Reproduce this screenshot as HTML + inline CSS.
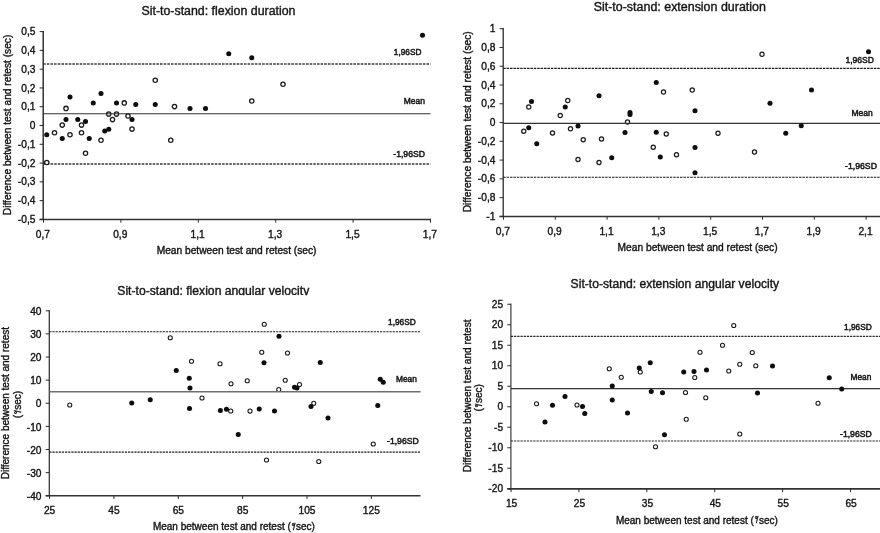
<!DOCTYPE html>
<html><head><meta charset="utf-8"><title>Bland-Altman plots</title>
<style>
html,body{margin:0;padding:0;background:#fff;}
body{width:880px;height:533px;overflow:hidden;}
svg{display:block;font-family:"Liberation Sans",sans-serif;}
text{stroke:#151515;stroke-width:0.38px;}
</style></head><body>
<svg width="880" height="533" viewBox="0 0 880 533">
<defs><filter id="bl" x="0" y="0" width="880" height="533" filterUnits="userSpaceOnUse"><feGaussianBlur stdDeviation="0.4"/></filter></defs>
<g filter="url(#bl)">
<rect x="0" y="0" width="880" height="533" fill="#fff"/>
<g>
<line x1="43.2" y1="31.0" x2="43.2" y2="220.0" stroke="#333" stroke-width="1.5"/>
<line x1="39.6" y1="219.4" x2="431" y2="219.4" stroke="#333" stroke-width="1.5"/>
<line x1="39.6" y1="31.6" x2="43.2" y2="31.6" stroke="#2a2a2a" stroke-width="1.0"/>
<text x="35.4" y="35.2" font-size="10.2" text-anchor="end" fill="#151515">0,5</text>
<line x1="39.6" y1="50.38" x2="43.2" y2="50.38" stroke="#2a2a2a" stroke-width="1.0"/>
<text x="35.4" y="53.98" font-size="10.2" text-anchor="end" fill="#151515">0,4</text>
<line x1="39.6" y1="69.16" x2="43.2" y2="69.16" stroke="#2a2a2a" stroke-width="1.0"/>
<text x="35.4" y="72.76" font-size="10.2" text-anchor="end" fill="#151515">0,3</text>
<line x1="39.6" y1="87.94" x2="43.2" y2="87.94" stroke="#2a2a2a" stroke-width="1.0"/>
<text x="35.4" y="91.54" font-size="10.2" text-anchor="end" fill="#151515">0,2</text>
<line x1="39.6" y1="106.72" x2="43.2" y2="106.72" stroke="#2a2a2a" stroke-width="1.0"/>
<text x="35.4" y="110.32" font-size="10.2" text-anchor="end" fill="#151515">0,1</text>
<line x1="39.6" y1="125.5" x2="43.2" y2="125.5" stroke="#2a2a2a" stroke-width="1.0"/>
<text x="35.4" y="129.1" font-size="10.2" text-anchor="end" fill="#151515">0</text>
<line x1="39.6" y1="144.28" x2="43.2" y2="144.28" stroke="#2a2a2a" stroke-width="1.0"/>
<text x="35.4" y="147.88" font-size="10.2" text-anchor="end" fill="#151515">-0,1</text>
<line x1="39.6" y1="163.06" x2="43.2" y2="163.06" stroke="#2a2a2a" stroke-width="1.0"/>
<text x="35.4" y="166.66" font-size="10.2" text-anchor="end" fill="#151515">-0,2</text>
<line x1="39.6" y1="181.84" x2="43.2" y2="181.84" stroke="#2a2a2a" stroke-width="1.0"/>
<text x="35.4" y="185.44" font-size="10.2" text-anchor="end" fill="#151515">-0,3</text>
<line x1="39.6" y1="200.62" x2="43.2" y2="200.62" stroke="#2a2a2a" stroke-width="1.0"/>
<text x="35.4" y="204.22" font-size="10.2" text-anchor="end" fill="#151515">-0,4</text>
<line x1="39.6" y1="219.4" x2="43.2" y2="219.4" stroke="#2a2a2a" stroke-width="1.0"/>
<text x="35.4" y="223.0" font-size="10.2" text-anchor="end" fill="#151515">-0,5</text>
<line x1="43.5" y1="219.4" x2="43.5" y2="222.70000000000002" stroke="#2a2a2a" stroke-width="1.0"/>
<text x="42.9" y="238.1" font-size="10.2" text-anchor="middle" fill="#151515">0,7</text>
<line x1="120.9" y1="219.4" x2="120.9" y2="222.70000000000002" stroke="#2a2a2a" stroke-width="1.0"/>
<text x="120.3" y="238.1" font-size="10.2" text-anchor="middle" fill="#151515">0,9</text>
<line x1="198.3" y1="219.4" x2="198.3" y2="222.70000000000002" stroke="#2a2a2a" stroke-width="1.0"/>
<text x="197.7" y="238.1" font-size="10.2" text-anchor="middle" fill="#151515">1,1</text>
<line x1="275.7" y1="219.4" x2="275.7" y2="222.70000000000002" stroke="#2a2a2a" stroke-width="1.0"/>
<text x="275.1" y="238.1" font-size="10.2" text-anchor="middle" fill="#151515">1,3</text>
<line x1="353.1" y1="219.4" x2="353.1" y2="222.70000000000002" stroke="#2a2a2a" stroke-width="1.0"/>
<text x="352.5" y="238.1" font-size="10.2" text-anchor="middle" fill="#151515">1,5</text>
<line x1="430.5" y1="219.4" x2="430.5" y2="222.70000000000002" stroke="#2a2a2a" stroke-width="1.0"/>
<text x="429.9" y="238.1" font-size="10.2" text-anchor="middle" fill="#151515">1,7</text>
<line x1="43.2" y1="64" x2="430.5" y2="64" stroke="#3a3a3a" stroke-width="1.4" stroke-dasharray="2.55 1.1"/>
<line x1="43.2" y1="164" x2="430.5" y2="164" stroke="#3a3a3a" stroke-width="1.4" stroke-dasharray="2.55 1.1"/>
<circle cx="46.75" cy="162.5" r="2.15" fill="#fff" stroke="#1a1a1a" stroke-width="1.3"/>
<circle cx="54.5" cy="132.75" r="2.15" fill="#fff" stroke="#1a1a1a" stroke-width="1.3"/>
<circle cx="62.25" cy="125.1" r="2.15" fill="#fff" stroke="#1a1a1a" stroke-width="1.3"/>
<circle cx="66" cy="108.4" r="2.15" fill="#fff" stroke="#1a1a1a" stroke-width="1.3"/>
<circle cx="70" cy="134.75" r="2.15" fill="#fff" stroke="#1a1a1a" stroke-width="1.3"/>
<circle cx="81.5" cy="125.1" r="2.15" fill="#fff" stroke="#1a1a1a" stroke-width="1.3"/>
<circle cx="81.5" cy="132.75" r="2.15" fill="#fff" stroke="#1a1a1a" stroke-width="1.3"/>
<circle cx="85.5" cy="153.25" r="2.15" fill="#fff" stroke="#1a1a1a" stroke-width="1.3"/>
<circle cx="101" cy="140.25" r="2.15" fill="#fff" stroke="#1a1a1a" stroke-width="1.3"/>
<circle cx="108.75" cy="114.1" r="2.15" fill="#fff" stroke="#1a1a1a" stroke-width="1.3"/>
<circle cx="112.5" cy="119.6" r="2.15" fill="#fff" stroke="#1a1a1a" stroke-width="1.3"/>
<circle cx="116.5" cy="114.1" r="2.15" fill="#fff" stroke="#1a1a1a" stroke-width="1.3"/>
<circle cx="124.25" cy="102.9" r="2.15" fill="#fff" stroke="#1a1a1a" stroke-width="1.3"/>
<circle cx="128" cy="116" r="2.15" fill="#fff" stroke="#1a1a1a" stroke-width="1.3"/>
<circle cx="132" cy="129.1" r="2.15" fill="#fff" stroke="#1a1a1a" stroke-width="1.3"/>
<circle cx="155.25" cy="80.25" r="2.15" fill="#fff" stroke="#1a1a1a" stroke-width="1.3"/>
<circle cx="170.75" cy="140.25" r="2.15" fill="#fff" stroke="#1a1a1a" stroke-width="1.3"/>
<circle cx="174.5" cy="106.6" r="2.15" fill="#fff" stroke="#1a1a1a" stroke-width="1.3"/>
<circle cx="251.75" cy="101" r="2.15" fill="#fff" stroke="#1a1a1a" stroke-width="1.3"/>
<circle cx="283" cy="84.25" r="2.15" fill="#fff" stroke="#1a1a1a" stroke-width="1.3"/>
<line x1="43.2" y1="113.75" x2="430.5" y2="113.75" stroke="#333" stroke-width="1.15"/>
<circle cx="46.75" cy="134.75" r="2.52" fill="#0a0a0a"/>
<circle cx="62.25" cy="138.5" r="2.52" fill="#0a0a0a"/>
<circle cx="66" cy="119.6" r="2.52" fill="#0a0a0a"/>
<circle cx="70" cy="97" r="2.52" fill="#0a0a0a"/>
<circle cx="77.75" cy="119.6" r="2.52" fill="#0a0a0a"/>
<circle cx="85.5" cy="121.6" r="2.52" fill="#0a0a0a"/>
<circle cx="89.25" cy="138.5" r="2.52" fill="#0a0a0a"/>
<circle cx="93.25" cy="102.9" r="2.52" fill="#0a0a0a"/>
<circle cx="101" cy="93.5" r="2.52" fill="#0a0a0a"/>
<circle cx="104.75" cy="131" r="2.52" fill="#0a0a0a"/>
<circle cx="108.75" cy="129.25" r="2.52" fill="#0a0a0a"/>
<circle cx="116.5" cy="102.9" r="2.52" fill="#0a0a0a"/>
<circle cx="132" cy="119.6" r="2.52" fill="#0a0a0a"/>
<circle cx="135.75" cy="104.5" r="2.52" fill="#0a0a0a"/>
<circle cx="155.25" cy="104.5" r="2.52" fill="#0a0a0a"/>
<circle cx="190" cy="108.4" r="2.52" fill="#0a0a0a"/>
<circle cx="205.5" cy="108.4" r="2.52" fill="#0a0a0a"/>
<circle cx="228.75" cy="53.75" r="2.52" fill="#0a0a0a"/>
<circle cx="251.75" cy="57.75" r="2.52" fill="#0a0a0a"/>
<circle cx="422.5" cy="35.25" r="2.52" fill="#0a0a0a"/>
<text x="141.5" y="14.5" font-size="12.3" textLength="154" lengthAdjust="spacingAndGlyphs" fill="#151515">Sit-to-stand: flexion duration</text>
<text x="156.7" y="253.9" font-size="10.2" textLength="159.8" lengthAdjust="spacingAndGlyphs" fill="#151515">Mean between test and retest (sec)</text>
<text x="11.0" y="215.2" font-size="10.2" textLength="180.5" lengthAdjust="spacingAndGlyphs" transform="rotate(-90 11.0 215.2)" fill="#151515">Difference between test and retest (sec)</text>
<text x="393.75" y="55.0" font-size="9" textLength="27.75" lengthAdjust="spacingAndGlyphs" fill="#151515" style="stroke-width:0.5px">1,96SD</text>
<text x="403.75" y="103.8" font-size="9" textLength="21.2" lengthAdjust="spacingAndGlyphs" fill="#151515" style="stroke-width:0.5px">Mean</text>
<text x="393.25" y="157.0" font-size="9" textLength="31.75" lengthAdjust="spacingAndGlyphs" fill="#151515" style="stroke-width:0.5px">-1,96SD</text>
</g>
<g>
<line x1="503.2" y1="28.1" x2="503.2" y2="217.0" stroke="#333" stroke-width="1.35"/>
<line x1="499.59999999999997" y1="216.4" x2="880" y2="216.4" stroke="#333" stroke-width="1.5"/>
<line x1="499.59999999999997" y1="28.7" x2="503.2" y2="28.7" stroke="#2a2a2a" stroke-width="1.0"/>
<text x="495.4" y="32.3" font-size="10.2" text-anchor="end" fill="#151515">1</text>
<line x1="499.59999999999997" y1="47.47" x2="503.2" y2="47.47" stroke="#2a2a2a" stroke-width="1.0"/>
<text x="495.4" y="51.07" font-size="10.2" text-anchor="end" fill="#151515">0,8</text>
<line x1="499.59999999999997" y1="66.24" x2="503.2" y2="66.24" stroke="#2a2a2a" stroke-width="1.0"/>
<text x="495.4" y="69.84" font-size="10.2" text-anchor="end" fill="#151515">0,6</text>
<line x1="499.59999999999997" y1="85.01" x2="503.2" y2="85.01" stroke="#2a2a2a" stroke-width="1.0"/>
<text x="495.4" y="88.61" font-size="10.2" text-anchor="end" fill="#151515">0,4</text>
<line x1="499.59999999999997" y1="103.78" x2="503.2" y2="103.78" stroke="#2a2a2a" stroke-width="1.0"/>
<text x="495.4" y="107.38" font-size="10.2" text-anchor="end" fill="#151515">0,2</text>
<line x1="499.59999999999997" y1="122.55" x2="503.2" y2="122.55" stroke="#2a2a2a" stroke-width="1.0"/>
<text x="495.4" y="126.15" font-size="10.2" text-anchor="end" fill="#151515">0</text>
<line x1="499.59999999999997" y1="141.32" x2="503.2" y2="141.32" stroke="#2a2a2a" stroke-width="1.0"/>
<text x="495.4" y="144.92" font-size="10.2" text-anchor="end" fill="#151515">-0,2</text>
<line x1="499.59999999999997" y1="160.09" x2="503.2" y2="160.09" stroke="#2a2a2a" stroke-width="1.0"/>
<text x="495.4" y="163.69" font-size="10.2" text-anchor="end" fill="#151515">-0,4</text>
<line x1="499.59999999999997" y1="178.86" x2="503.2" y2="178.86" stroke="#2a2a2a" stroke-width="1.0"/>
<text x="495.4" y="182.46" font-size="10.2" text-anchor="end" fill="#151515">-0,6</text>
<line x1="499.59999999999997" y1="197.63" x2="503.2" y2="197.63" stroke="#2a2a2a" stroke-width="1.0"/>
<text x="495.4" y="201.23" font-size="10.2" text-anchor="end" fill="#151515">-0,8</text>
<line x1="499.59999999999997" y1="216.4" x2="503.2" y2="216.4" stroke="#2a2a2a" stroke-width="1.0"/>
<text x="495.4" y="220.0" font-size="10.2" text-anchor="end" fill="#151515">-1</text>
<line x1="503.5" y1="216.4" x2="503.5" y2="219.70000000000002" stroke="#2a2a2a" stroke-width="1.0"/>
<text x="502.9" y="235.1" font-size="10.2" text-anchor="middle" fill="#151515">0,7</text>
<line x1="555.3" y1="216.4" x2="555.3" y2="219.70000000000002" stroke="#2a2a2a" stroke-width="1.0"/>
<text x="554.7" y="235.1" font-size="10.2" text-anchor="middle" fill="#151515">0,9</text>
<line x1="607.1" y1="216.4" x2="607.1" y2="219.70000000000002" stroke="#2a2a2a" stroke-width="1.0"/>
<text x="606.5" y="235.1" font-size="10.2" text-anchor="middle" fill="#151515">1,1</text>
<line x1="658.9" y1="216.4" x2="658.9" y2="219.70000000000002" stroke="#2a2a2a" stroke-width="1.0"/>
<text x="658.3" y="235.1" font-size="10.2" text-anchor="middle" fill="#151515">1,3</text>
<line x1="710.7" y1="216.4" x2="710.7" y2="219.70000000000002" stroke="#2a2a2a" stroke-width="1.0"/>
<text x="710.1" y="235.1" font-size="10.2" text-anchor="middle" fill="#151515">1,5</text>
<line x1="762.5" y1="216.4" x2="762.5" y2="219.70000000000002" stroke="#2a2a2a" stroke-width="1.0"/>
<text x="761.9" y="235.1" font-size="10.2" text-anchor="middle" fill="#151515">1,7</text>
<line x1="814.3" y1="216.4" x2="814.3" y2="219.70000000000002" stroke="#2a2a2a" stroke-width="1.0"/>
<text x="813.7" y="235.1" font-size="10.2" text-anchor="middle" fill="#151515">1,9</text>
<line x1="866.1" y1="216.4" x2="866.1" y2="219.70000000000002" stroke="#2a2a2a" stroke-width="1.0"/>
<text x="865.5" y="235.1" font-size="10.2" text-anchor="middle" fill="#151515">2,1</text>
<line x1="503.2" y1="68.4" x2="880" y2="68.4" stroke="#1a1a1a" stroke-width="1.1" stroke-dasharray="2.5 0.9"/>
<line x1="503.2" y1="177.2" x2="880" y2="177.2" stroke="#1a1a1a" stroke-width="1.1" stroke-dasharray="2.5 0.9"/>
<circle cx="523.75" cy="131.25" r="2.1" fill="#fff" stroke="#1a1a1a" stroke-width="1.2"/>
<circle cx="528.75" cy="107" r="2.1" fill="#fff" stroke="#1a1a1a" stroke-width="1.2"/>
<circle cx="552.5" cy="133" r="2.1" fill="#fff" stroke="#1a1a1a" stroke-width="1.2"/>
<circle cx="560.25" cy="115.5" r="2.1" fill="#fff" stroke="#1a1a1a" stroke-width="1.2"/>
<circle cx="567.75" cy="100.5" r="2.1" fill="#fff" stroke="#1a1a1a" stroke-width="1.2"/>
<circle cx="570.5" cy="128.75" r="2.1" fill="#fff" stroke="#1a1a1a" stroke-width="1.2"/>
<circle cx="578" cy="159.5" r="2.1" fill="#fff" stroke="#1a1a1a" stroke-width="1.2"/>
<circle cx="583.25" cy="139.75" r="2.1" fill="#fff" stroke="#1a1a1a" stroke-width="1.2"/>
<circle cx="599" cy="162.5" r="2.1" fill="#fff" stroke="#1a1a1a" stroke-width="1.2"/>
<circle cx="601.5" cy="139" r="2.1" fill="#fff" stroke="#1a1a1a" stroke-width="1.2"/>
<circle cx="627.5" cy="122" r="2.1" fill="#fff" stroke="#1a1a1a" stroke-width="1.2"/>
<circle cx="653.25" cy="147.25" r="2.1" fill="#fff" stroke="#1a1a1a" stroke-width="1.2"/>
<circle cx="663.5" cy="92" r="2.1" fill="#fff" stroke="#1a1a1a" stroke-width="1.2"/>
<circle cx="666.25" cy="134" r="2.1" fill="#fff" stroke="#1a1a1a" stroke-width="1.2"/>
<circle cx="676.5" cy="154.75" r="2.1" fill="#fff" stroke="#1a1a1a" stroke-width="1.2"/>
<circle cx="692.25" cy="90" r="2.1" fill="#fff" stroke="#1a1a1a" stroke-width="1.2"/>
<circle cx="718" cy="133.25" r="2.1" fill="#fff" stroke="#1a1a1a" stroke-width="1.2"/>
<circle cx="754.5" cy="152" r="2.1" fill="#fff" stroke="#1a1a1a" stroke-width="1.2"/>
<circle cx="762" cy="54.25" r="2.1" fill="#fff" stroke="#1a1a1a" stroke-width="1.2"/>
<line x1="503.2" y1="123.3" x2="880" y2="123.3" stroke="#333" stroke-width="1.15"/>
<circle cx="528.75" cy="127.75" r="2.52" fill="#0a0a0a"/>
<circle cx="531.5" cy="101.5" r="2.52" fill="#0a0a0a"/>
<circle cx="536.75" cy="143.75" r="2.52" fill="#0a0a0a"/>
<circle cx="565.25" cy="107.1" r="2.52" fill="#0a0a0a"/>
<circle cx="578" cy="126" r="2.52" fill="#0a0a0a"/>
<circle cx="599" cy="95.75" r="2.52" fill="#0a0a0a"/>
<circle cx="611.75" cy="157.75" r="2.52" fill="#0a0a0a"/>
<circle cx="625" cy="132.5" r="2.52" fill="#0a0a0a"/>
<circle cx="630" cy="112.5" r="2.52" fill="#0a0a0a"/>
<circle cx="630" cy="114.5" r="2.52" fill="#0a0a0a"/>
<circle cx="656.25" cy="82.5" r="2.52" fill="#0a0a0a"/>
<circle cx="656.25" cy="132.25" r="2.52" fill="#0a0a0a"/>
<circle cx="660.3" cy="157" r="2.52" fill="#0a0a0a"/>
<circle cx="695" cy="110.75" r="2.52" fill="#0a0a0a"/>
<circle cx="695" cy="147.5" r="2.52" fill="#0a0a0a"/>
<circle cx="695" cy="172.75" r="2.52" fill="#0a0a0a"/>
<circle cx="770" cy="103.25" r="2.52" fill="#0a0a0a"/>
<circle cx="785.75" cy="133.25" r="2.52" fill="#0a0a0a"/>
<circle cx="801.25" cy="125.75" r="2.52" fill="#0a0a0a"/>
<circle cx="811.5" cy="90" r="2.52" fill="#0a0a0a"/>
<circle cx="868.5" cy="51.75" r="2.52" fill="#0a0a0a"/>
<text x="593.7" y="11.2" font-size="12.3" textLength="172.2" lengthAdjust="spacingAndGlyphs" fill="#151515">Sit-to-stand: extension duration</text>
<text x="617.6" y="251.3" font-size="10.2" textLength="160" lengthAdjust="spacingAndGlyphs" fill="#151515">Mean between test and retest (sec)</text>
<text x="471.2" y="212.3" font-size="10.2" textLength="181" lengthAdjust="spacingAndGlyphs" transform="rotate(-90 471.2 212.3)" fill="#151515">Difference between test and retest (sec)</text>
<text x="845.5" y="63.3" font-size="9" textLength="28.5" lengthAdjust="spacingAndGlyphs" fill="#151515" style="stroke-width:0.5px">1,96SD</text>
<text x="851.5" y="115.5" font-size="9" textLength="21.2" lengthAdjust="spacingAndGlyphs" fill="#151515" style="stroke-width:0.5px">Mean</text>
<text x="845" y="168.5" font-size="9" textLength="32" lengthAdjust="spacingAndGlyphs" fill="#151515" style="stroke-width:0.5px">-1,96SD</text>
</g>
<g>
<line x1="49.3" y1="310.1" x2="49.3" y2="496.3" stroke="#333" stroke-width="1.25"/>
<line x1="45.699999999999996" y1="495.7" x2="420.5" y2="495.7" stroke="#333" stroke-width="1.35"/>
<line x1="45.699999999999996" y1="310.8" x2="49.3" y2="310.8" stroke="#2a2a2a" stroke-width="1.0"/>
<text x="41.5" y="315.0" font-size="10.2" text-anchor="end" fill="#151515">40</text>
<line x1="45.699999999999996" y1="333.92" x2="49.3" y2="333.92" stroke="#2a2a2a" stroke-width="1.0"/>
<text x="41.5" y="338.12" font-size="10.2" text-anchor="end" fill="#151515">30</text>
<line x1="45.699999999999996" y1="357.04" x2="49.3" y2="357.04" stroke="#2a2a2a" stroke-width="1.0"/>
<text x="41.5" y="361.24" font-size="10.2" text-anchor="end" fill="#151515">20</text>
<line x1="45.699999999999996" y1="380.16" x2="49.3" y2="380.16" stroke="#2a2a2a" stroke-width="1.0"/>
<text x="41.5" y="384.36" font-size="10.2" text-anchor="end" fill="#151515">10</text>
<line x1="45.699999999999996" y1="403.28" x2="49.3" y2="403.28" stroke="#2a2a2a" stroke-width="1.0"/>
<text x="41.5" y="407.48" font-size="10.2" text-anchor="end" fill="#151515">0</text>
<line x1="45.699999999999996" y1="426.4" x2="49.3" y2="426.4" stroke="#2a2a2a" stroke-width="1.0"/>
<text x="41.5" y="430.6" font-size="10.2" text-anchor="end" fill="#151515">-10</text>
<line x1="45.699999999999996" y1="449.52" x2="49.3" y2="449.52" stroke="#2a2a2a" stroke-width="1.0"/>
<text x="41.5" y="453.72" font-size="10.2" text-anchor="end" fill="#151515">-20</text>
<line x1="45.699999999999996" y1="472.64" x2="49.3" y2="472.64" stroke="#2a2a2a" stroke-width="1.0"/>
<text x="41.5" y="476.84" font-size="10.2" text-anchor="end" fill="#151515">-30</text>
<line x1="45.699999999999996" y1="495.76" x2="49.3" y2="495.76" stroke="#2a2a2a" stroke-width="1.0"/>
<text x="41.5" y="499.96" font-size="10.2" text-anchor="end" fill="#151515">-40</text>
<line x1="49.6" y1="495.7" x2="49.6" y2="499.0" stroke="#2a2a2a" stroke-width="1.0"/>
<text x="49.6" y="513.6" font-size="10.2" text-anchor="middle" fill="#151515">25</text>
<line x1="113.95" y1="495.7" x2="113.95" y2="499.0" stroke="#2a2a2a" stroke-width="1.0"/>
<text x="113.95" y="513.6" font-size="10.2" text-anchor="middle" fill="#151515">45</text>
<line x1="178.3" y1="495.7" x2="178.3" y2="499.0" stroke="#2a2a2a" stroke-width="1.0"/>
<text x="178.3" y="513.6" font-size="10.2" text-anchor="middle" fill="#151515">65</text>
<line x1="242.65" y1="495.7" x2="242.65" y2="499.0" stroke="#2a2a2a" stroke-width="1.0"/>
<text x="242.65" y="513.6" font-size="10.2" text-anchor="middle" fill="#151515">85</text>
<line x1="307.0" y1="495.7" x2="307.0" y2="499.0" stroke="#2a2a2a" stroke-width="1.0"/>
<text x="307.0" y="513.6" font-size="10.2" text-anchor="middle" fill="#151515">105</text>
<line x1="371.35" y1="495.7" x2="371.35" y2="499.0" stroke="#2a2a2a" stroke-width="1.0"/>
<text x="371.35" y="513.6" font-size="10.2" text-anchor="middle" fill="#151515">125</text>
<line x1="49.3" y1="331.75" x2="420.5" y2="331.75" stroke="#1a1a1a" stroke-width="1.1" stroke-dasharray="2.2 0.95"/>
<line x1="49.3" y1="452.1" x2="420.5" y2="452.1" stroke="#1a1a1a" stroke-width="1.1" stroke-dasharray="2.2 0.95"/>
<circle cx="69.75" cy="405" r="2.05" fill="#fff" stroke="#1a1a1a" stroke-width="1.08"/>
<circle cx="170.25" cy="337.75" r="2.05" fill="#fff" stroke="#1a1a1a" stroke-width="1.08"/>
<circle cx="191.5" cy="361.25" r="2.05" fill="#fff" stroke="#1a1a1a" stroke-width="1.08"/>
<circle cx="202" cy="398" r="2.05" fill="#fff" stroke="#1a1a1a" stroke-width="1.08"/>
<circle cx="220" cy="363.75" r="2.05" fill="#fff" stroke="#1a1a1a" stroke-width="1.08"/>
<circle cx="231" cy="383.75" r="2.05" fill="#fff" stroke="#1a1a1a" stroke-width="1.08"/>
<circle cx="230.75" cy="411" r="2.05" fill="#fff" stroke="#1a1a1a" stroke-width="1.08"/>
<circle cx="247.25" cy="380.75" r="2.05" fill="#fff" stroke="#1a1a1a" stroke-width="1.08"/>
<circle cx="250" cy="411.1" r="2.05" fill="#fff" stroke="#1a1a1a" stroke-width="1.08"/>
<circle cx="264.25" cy="324.25" r="2.05" fill="#fff" stroke="#1a1a1a" stroke-width="1.08"/>
<circle cx="261.75" cy="352.25" r="2.05" fill="#fff" stroke="#1a1a1a" stroke-width="1.08"/>
<circle cx="266.5" cy="460" r="2.05" fill="#fff" stroke="#1a1a1a" stroke-width="1.08"/>
<circle cx="278.75" cy="389.5" r="2.05" fill="#fff" stroke="#1a1a1a" stroke-width="1.08"/>
<circle cx="285.25" cy="380.25" r="2.05" fill="#fff" stroke="#1a1a1a" stroke-width="1.08"/>
<circle cx="287.5" cy="353" r="2.05" fill="#fff" stroke="#1a1a1a" stroke-width="1.08"/>
<circle cx="299.5" cy="384.5" r="2.05" fill="#fff" stroke="#1a1a1a" stroke-width="1.08"/>
<circle cx="313.75" cy="403.25" r="2.05" fill="#fff" stroke="#1a1a1a" stroke-width="1.08"/>
<circle cx="318.75" cy="461.5" r="2.05" fill="#fff" stroke="#1a1a1a" stroke-width="1.08"/>
<circle cx="373.25" cy="444" r="2.05" fill="#fff" stroke="#1a1a1a" stroke-width="1.08"/>
<line x1="49.3" y1="391.75" x2="420.5" y2="391.75" stroke="#6e6e6e" stroke-width="1.7"/>
<circle cx="131.75" cy="402.9" r="2.52" fill="#0a0a0a"/>
<circle cx="150.25" cy="399.75" r="2.52" fill="#0a0a0a"/>
<circle cx="176.25" cy="370.5" r="2.52" fill="#0a0a0a"/>
<circle cx="189.25" cy="378.25" r="2.52" fill="#0a0a0a"/>
<circle cx="190" cy="388" r="2.52" fill="#0a0a0a"/>
<circle cx="189.5" cy="408.5" r="2.52" fill="#0a0a0a"/>
<circle cx="220.4" cy="410.4" r="2.52" fill="#0a0a0a"/>
<circle cx="226.5" cy="409.25" r="2.52" fill="#0a0a0a"/>
<circle cx="238.25" cy="434.5" r="2.52" fill="#0a0a0a"/>
<circle cx="259.25" cy="409" r="2.52" fill="#0a0a0a"/>
<circle cx="264" cy="362.75" r="2.52" fill="#0a0a0a"/>
<circle cx="274.5" cy="411.1" r="2.52" fill="#0a0a0a"/>
<circle cx="279" cy="336.25" r="2.52" fill="#0a0a0a"/>
<circle cx="294.5" cy="387.25" r="2.52" fill="#0a0a0a"/>
<circle cx="297" cy="388" r="2.52" fill="#0a0a0a"/>
<circle cx="311" cy="406.5" r="2.52" fill="#0a0a0a"/>
<circle cx="320.25" cy="362.5" r="2.52" fill="#0a0a0a"/>
<circle cx="328" cy="418" r="2.52" fill="#0a0a0a"/>
<circle cx="377.75" cy="405.5" r="2.52" fill="#0a0a0a"/>
<circle cx="380.25" cy="379.25" r="2.52" fill="#0a0a0a"/>
<circle cx="383.25" cy="382.25" r="2.52" fill="#0a0a0a"/>
<clipPath id="ct"><rect x="0" y="270" width="440" height="25.30000000000001"/></clipPath>
<g clip-path="url(#ct)">
<text x="117.3" y="294.7" font-size="12.3" textLength="192" lengthAdjust="spacingAndGlyphs" fill="#151515">Sit-to-stand: flexion angular velocity</text>
</g>
<text x="152.9" y="530.4" font-size="10" textLength="131.8" lengthAdjust="spacingAndGlyphs" fill="#151515">Mean between test and retest</text>
<text x="287.4" y="530.4" font-size="10" fill="#151515">(<tspan font-size="8" dy="-1.5" dx="0.77">°</tspan><tspan font-size="8.5" dx="-1.6" dy="0.9">/</tspan><tspan dy="0.6" dx="0.45">sec)</tspan></text>
<text x="9.4" y="479.3" font-size="10" textLength="152.3" lengthAdjust="spacingAndGlyphs" transform="rotate(-90 9.4 479.3)" fill="#151515">Difference between test and retest</text>
<text x="21.3" y="418.3" font-size="10" transform="rotate(-90 21.3 418.3)" fill="#151515">(<tspan font-size="8" dy="-1.5" dx="0.77">°</tspan><tspan font-size="8.5" dx="-1.6" dy="0.9">/</tspan><tspan dy="0.6" dx="0.45">sec)</tspan></text>
<text x="388" y="324.5" font-size="9" textLength="27.75" lengthAdjust="spacingAndGlyphs" fill="#151515" style="stroke-width:0.5px">1,96SD</text>
<text x="396" y="381.8" font-size="9" textLength="20.8" lengthAdjust="spacingAndGlyphs" fill="#151515" style="stroke-width:0.5px">Mean</text>
<text x="387" y="443.9" font-size="9" textLength="31.75" lengthAdjust="spacingAndGlyphs" fill="#151515" style="stroke-width:0.5px">-1,96SD</text>
</g>
<g>
<line x1="510.9" y1="303.6" x2="510.9" y2="489.40000000000003" stroke="#333" stroke-width="1.15"/>
<line x1="507.29999999999995" y1="488.8" x2="880" y2="488.8" stroke="#333" stroke-width="1.7"/>
<line x1="507.29999999999995" y1="304.25" x2="510.9" y2="304.25" stroke="#2a2a2a" stroke-width="1.0"/>
<text x="503.1" y="307.85" font-size="10.2" text-anchor="end" fill="#151515">25</text>
<line x1="507.29999999999995" y1="324.75" x2="510.9" y2="324.75" stroke="#2a2a2a" stroke-width="1.0"/>
<text x="503.1" y="328.35" font-size="10.2" text-anchor="end" fill="#151515">20</text>
<line x1="507.29999999999995" y1="345.25" x2="510.9" y2="345.25" stroke="#2a2a2a" stroke-width="1.0"/>
<text x="503.1" y="348.85" font-size="10.2" text-anchor="end" fill="#151515">15</text>
<line x1="507.29999999999995" y1="365.75" x2="510.9" y2="365.75" stroke="#2a2a2a" stroke-width="1.0"/>
<text x="503.1" y="369.35" font-size="10.2" text-anchor="end" fill="#151515">10</text>
<line x1="507.29999999999995" y1="386.25" x2="510.9" y2="386.25" stroke="#2a2a2a" stroke-width="1.0"/>
<text x="503.1" y="389.85" font-size="10.2" text-anchor="end" fill="#151515">5</text>
<line x1="507.29999999999995" y1="406.75" x2="510.9" y2="406.75" stroke="#2a2a2a" stroke-width="1.0"/>
<text x="503.1" y="410.35" font-size="10.2" text-anchor="end" fill="#151515">0</text>
<line x1="507.29999999999995" y1="427.25" x2="510.9" y2="427.25" stroke="#2a2a2a" stroke-width="1.0"/>
<text x="503.1" y="430.85" font-size="10.2" text-anchor="end" fill="#151515">-5</text>
<line x1="507.29999999999995" y1="447.75" x2="510.9" y2="447.75" stroke="#2a2a2a" stroke-width="1.0"/>
<text x="503.1" y="451.35" font-size="10.2" text-anchor="end" fill="#151515">-10</text>
<line x1="507.29999999999995" y1="468.25" x2="510.9" y2="468.25" stroke="#2a2a2a" stroke-width="1.0"/>
<text x="503.1" y="471.85" font-size="10.2" text-anchor="end" fill="#151515">-15</text>
<line x1="507.29999999999995" y1="488.75" x2="510.9" y2="488.75" stroke="#2a2a2a" stroke-width="1.0"/>
<text x="503.1" y="492.35" font-size="10.2" text-anchor="end" fill="#151515">-20</text>
<line x1="511.0" y1="488.8" x2="511.0" y2="492.1" stroke="#2a2a2a" stroke-width="1.0"/>
<text x="511.6" y="506.85" font-size="10.2" text-anchor="middle" fill="#151515">15</text>
<line x1="578.9" y1="488.8" x2="578.9" y2="492.1" stroke="#2a2a2a" stroke-width="1.0"/>
<text x="579.5" y="506.85" font-size="10.2" text-anchor="middle" fill="#151515">25</text>
<line x1="646.8" y1="488.8" x2="646.8" y2="492.1" stroke="#2a2a2a" stroke-width="1.0"/>
<text x="647.4" y="506.85" font-size="10.2" text-anchor="middle" fill="#151515">35</text>
<line x1="714.7" y1="488.8" x2="714.7" y2="492.1" stroke="#2a2a2a" stroke-width="1.0"/>
<text x="715.3" y="506.85" font-size="10.2" text-anchor="middle" fill="#151515">45</text>
<line x1="782.6" y1="488.8" x2="782.6" y2="492.1" stroke="#2a2a2a" stroke-width="1.0"/>
<text x="783.2" y="506.85" font-size="10.2" text-anchor="middle" fill="#151515">55</text>
<line x1="850.5" y1="488.8" x2="850.5" y2="492.1" stroke="#2a2a2a" stroke-width="1.0"/>
<text x="851.1" y="506.85" font-size="10.2" text-anchor="middle" fill="#151515">65</text>
<line x1="510.9" y1="336.4" x2="880" y2="336.4" stroke="#222" stroke-width="1.1" stroke-dasharray="2.2 1.0"/>
<line x1="510.9" y1="441" x2="880" y2="441" stroke="#222" stroke-width="1.1" stroke-dasharray="2.2 1.0"/>
<circle cx="536.5" cy="403.75" r="2.05" fill="#fff" stroke="#1a1a1a" stroke-width="1.08"/>
<circle cx="577" cy="405" r="2.05" fill="#fff" stroke="#1a1a1a" stroke-width="1.08"/>
<circle cx="609.25" cy="368.75" r="2.05" fill="#fff" stroke="#1a1a1a" stroke-width="1.08"/>
<circle cx="621.25" cy="377.25" r="2.05" fill="#fff" stroke="#1a1a1a" stroke-width="1.08"/>
<circle cx="640.25" cy="372" r="2.05" fill="#fff" stroke="#1a1a1a" stroke-width="1.08"/>
<circle cx="655.5" cy="446.75" r="2.05" fill="#fff" stroke="#1a1a1a" stroke-width="1.08"/>
<circle cx="685.5" cy="392.5" r="2.05" fill="#fff" stroke="#1a1a1a" stroke-width="1.08"/>
<circle cx="686.25" cy="419.25" r="2.05" fill="#fff" stroke="#1a1a1a" stroke-width="1.08"/>
<circle cx="694.75" cy="377.5" r="2.05" fill="#fff" stroke="#1a1a1a" stroke-width="1.08"/>
<circle cx="700" cy="352.25" r="2.05" fill="#fff" stroke="#1a1a1a" stroke-width="1.08"/>
<circle cx="705.75" cy="397.75" r="2.05" fill="#fff" stroke="#1a1a1a" stroke-width="1.08"/>
<circle cx="722.5" cy="345.25" r="2.05" fill="#fff" stroke="#1a1a1a" stroke-width="1.08"/>
<circle cx="728.75" cy="371" r="2.05" fill="#fff" stroke="#1a1a1a" stroke-width="1.08"/>
<circle cx="733.75" cy="325.5" r="2.05" fill="#fff" stroke="#1a1a1a" stroke-width="1.08"/>
<circle cx="739.75" cy="364.25" r="2.05" fill="#fff" stroke="#1a1a1a" stroke-width="1.08"/>
<circle cx="739.75" cy="434" r="2.05" fill="#fff" stroke="#1a1a1a" stroke-width="1.08"/>
<circle cx="752.25" cy="352.5" r="2.05" fill="#fff" stroke="#1a1a1a" stroke-width="1.08"/>
<circle cx="755.75" cy="365.75" r="2.05" fill="#fff" stroke="#1a1a1a" stroke-width="1.08"/>
<circle cx="818" cy="403.25" r="2.05" fill="#fff" stroke="#1a1a1a" stroke-width="1.08"/>
<line x1="510.9" y1="388.6" x2="880" y2="388.6" stroke="#333" stroke-width="1.12"/>
<circle cx="545" cy="422" r="2.52" fill="#0a0a0a"/>
<circle cx="552.5" cy="405.25" r="2.52" fill="#0a0a0a"/>
<circle cx="565" cy="396.6" r="2.52" fill="#0a0a0a"/>
<circle cx="582.5" cy="406.5" r="2.52" fill="#0a0a0a"/>
<circle cx="584.75" cy="413.5" r="2.52" fill="#0a0a0a"/>
<circle cx="612.25" cy="385.9" r="2.52" fill="#0a0a0a"/>
<circle cx="612.25" cy="400.1" r="2.52" fill="#0a0a0a"/>
<circle cx="627.5" cy="413" r="2.52" fill="#0a0a0a"/>
<circle cx="639.25" cy="368" r="2.52" fill="#0a0a0a"/>
<circle cx="650.25" cy="362.75" r="2.52" fill="#0a0a0a"/>
<circle cx="651.25" cy="391.6" r="2.52" fill="#0a0a0a"/>
<circle cx="662.5" cy="392.75" r="2.52" fill="#0a0a0a"/>
<circle cx="664.5" cy="434.75" r="2.52" fill="#0a0a0a"/>
<circle cx="683.75" cy="372" r="2.52" fill="#0a0a0a"/>
<circle cx="694" cy="371.5" r="2.52" fill="#0a0a0a"/>
<circle cx="706.5" cy="370" r="2.52" fill="#0a0a0a"/>
<circle cx="757.5" cy="393" r="2.52" fill="#0a0a0a"/>
<circle cx="772.5" cy="366" r="2.52" fill="#0a0a0a"/>
<circle cx="829.25" cy="377.75" r="2.52" fill="#0a0a0a"/>
<circle cx="841.75" cy="389" r="2.52" fill="#0a0a0a"/>
<text x="570.6" y="287.8" font-size="12.3" textLength="208.5" lengthAdjust="spacingAndGlyphs" fill="#151515">Sit-to-stand: extension angular velocity</text>
<text x="615.9" y="523.7" font-size="10" textLength="131.8" lengthAdjust="spacingAndGlyphs" fill="#151515">Mean between test and retest</text>
<text x="750.4" y="523.7" font-size="10" fill="#151515">(<tspan font-size="8" dy="-1.5" dx="0.77">°</tspan><tspan font-size="8.5" dx="-1.6" dy="0.9">/</tspan><tspan dy="0.6" dx="0.45">sec)</tspan></text>
<text x="470.8" y="472.25" font-size="10" textLength="152.75" lengthAdjust="spacingAndGlyphs" transform="rotate(-90 470.8 472.25)" fill="#151515">Difference between test and retest</text>
<text x="482.4" y="411.6" font-size="10" transform="rotate(-90 482.4 411.6)" fill="#151515">(<tspan font-size="8" dy="-1.5" dx="0.77">°</tspan><tspan font-size="8.5" dx="-1.6" dy="0.9">/</tspan><tspan dy="0.6" dx="0.45">sec)</tspan></text>
<text x="844" y="329.8" font-size="9" textLength="27.75" lengthAdjust="spacingAndGlyphs" fill="#151515" style="stroke-width:0.5px">1,96SD</text>
<text x="850.5" y="379.5" font-size="9" textLength="20.8" lengthAdjust="spacingAndGlyphs" fill="#151515" style="stroke-width:0.5px">Mean</text>
<text x="840" y="436.7" font-size="9" textLength="31.75" lengthAdjust="spacingAndGlyphs" fill="#151515" style="stroke-width:0.5px">-1,96SD</text>
</g>
</g>
</svg>
</body></html>
